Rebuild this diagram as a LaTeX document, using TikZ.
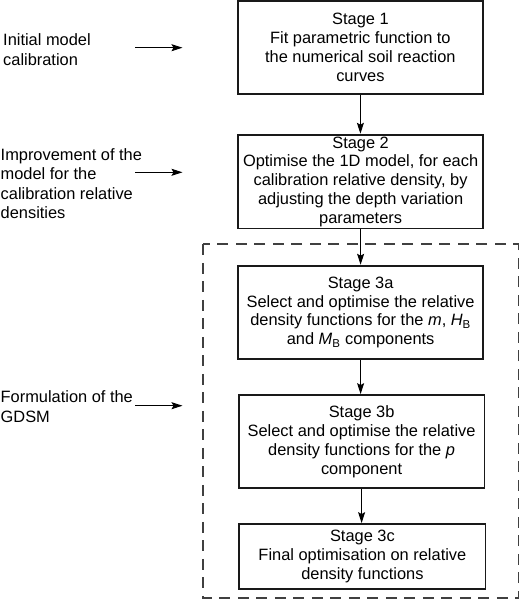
\documentclass[tikz,border=0pt]{standalone}
\usepackage{fontspec}
\setmainfont{Liberation Sans}
\usetikzlibrary{arrows.meta}
\begin{document}
\begin{tikzpicture}[x=1pt,y=-1pt,
  stagebox/.style={draw=black!90, line width=1.9pt, align=center, inner sep=0pt,
    font=\fontsize{16.4}{18.8}\selectfont},
  sidelabel/.style={anchor=west, align=left, inner sep=0pt,
    font=\fontsize{16.4}{19.3}\selectfont},
  flow/.style={-{Stealth[length=11pt,width=7pt,inset=2pt]}, line width=1pt},
  grp/.style={draw=black!75, dash pattern=on 11pt off 7.5pt, line width=1.9pt}]
\useasboundingbox (0,0) rectangle (520,599);

% group frame
\draw[grp] (203.3,244.3) rectangle (518.5,598.3);

% stages
\node[stagebox, minimum width=245.5pt, minimum height=93pt] (s1) at (360.4,47.5)
  {Stage 1\\Fit parametric function to\\the numerical soil reaction\\curves};
\node[stagebox, minimum width=245.5pt, minimum height=93.8pt] (s2) at (360.6,181.6)
  {Stage 2\\Optimise the 1D model, for each\\calibration relative density, by\\adjusting the depth variation\\parameters};
\node[stagebox, minimum width=245.6pt, minimum height=93.6pt] (s3a) at (360.6,312.5)
  {Stage 3a\\Select and optimise the relative\\density functions for the \textit{m}, \textit{H}\textsubscript{B}\\and \textit{M}\textsubscript{B} components};
\node[stagebox, minimum width=245.8pt, minimum height=93.3pt] (s3b) at (361.6,441.7)
  {Stage 3b\\Select and optimise the relative\\density functions for the \textit{p}\\component};
\node[stagebox, minimum width=246.2pt, minimum height=65.3pt] (s3c) at (362.4,556.7)
  {Stage 3c\\Final optimisation on relative\\density functions};

% flow arrows
\draw[flow] (s1.south) -- (s1.south |- s2.north);
\draw[flow] (s2.south) -- (s2.south |- s3a.north);
\draw[flow] (s3a.south) -- (s3a.south |- s3b.north);
\draw[flow] (s3b.south) -- (s3b.south |- s3c.north);

% side labels
\node[sidelabel] (l1) at (3,49.5) {Initial model\\calibration};
\node[sidelabel] (l2) at (0.5,183.5) {Improvement of the\\model for the\\calibration relative\\densities};
\node[sidelabel] (l3) at (0.5,406.5) {Formulation of the\\GDSM};

% side arrows
\coordinate (a1s) at (135,47.7);
\coordinate (a1e) at (182.5,47.7);
\coordinate (a2s) at (135,172.3);
\coordinate (a2e) at (182.5,172.3);
\coordinate (a3s) at (135,405.7);
\coordinate (a3e) at (182.5,405.7);
\draw[flow] (a1s) -- (a1e);
\draw[flow] (a2s) -- (a2e);
\draw[flow] (a3s) -- (a3e);
\end{tikzpicture}
\end{document}
